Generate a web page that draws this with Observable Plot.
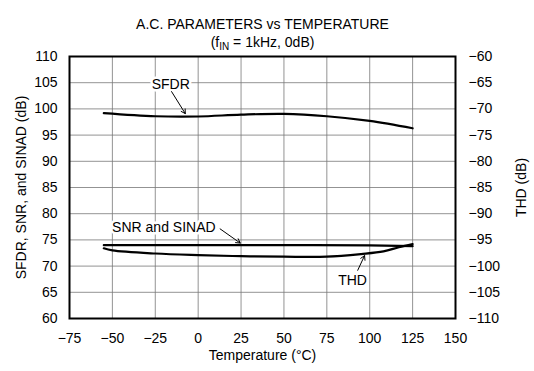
<!DOCTYPE html>
<html>
<head>
<meta charset="utf-8">
<script src="https://cdn.jsdelivr.net/npm/d3@7"></script>
<script src="https://cdn.jsdelivr.net/npm/@observablehq/plot@0.6"></script>
<style>
  html, body { margin: 0; padding: 0; background: #fff; }
  #chart svg { display: block; }
</style>
</head>
<body>
<div id="chart"></div>
<script>
// ---- data ----
const sfdrTemp = [-55, -25, 0, 25, 50, 75, 100, 125];
const sfdrDb   = [99.2, 98.6, 98.55, 98.9, 99.05, 98.6, 97.7, 96.3];

const snrTemp  = [-55, 0, 50, 100, 125];
const snrDb    = [74.0, 74.0, 74.0, 73.95, 73.8];

const thdTemp  = [-55, -50, -25, 0, 25, 50, 75, 95, 108, 117, 125];
const thdDb    = [-96.6, -97.0, -97.6, -97.9, -98.1, -98.2, -98.2, -97.7, -97.2, -96.4, -95.8];

const xTicks    = [-75, -50, -25, 0, 25, 50, 75, 100, 125, 150];
const leftTicks = [60, 65, 70, 75, 80, 85, 90, 95, 100, 105, 110];
const thdTicks  = [-110, -105, -100, -95, -90, -85, -80, -75, -70, -65, -60];
const THD_OFFSET = 170; // right axis value = left axis value - 170

const titleText    = "A.C. PARAMETERS vs TEMPERATURE";
const subtitleText = "(fIN = 1kHz, 0dB)";
const xLabel       = "Temperature (°C)";
const yLeftLabel   = "SFDR, SNR, and SINAD (dB)";
const yRightLabel  = "THD (dB)";

const annotations = [
  {text: "SFDR", x: -16, y: 104.7, ax1: -15.5, ay1: 103.3, ax2: -7.5, ay2: 99.1},
  {text: "SNR and SINAD", x: -20, y: 77.4, ax1: 12.8, ay1: 77.1, ax2: 24.5, ay2: 74.4},
  {text: "THD", x: 90, y: 67.25, ax1: 93, ay1: 69.2, ax2: 97, ay2: 72.0}
];

// ---- tables ----
const sfdr = sfdrTemp.map((t, i) => ({t, v: sfdrDb[i]}));
const snr  = snrTemp.map((t, i) => ({t, v: snrDb[i]}));
const thd  = thdTemp.map((t, i) => ({t, v: thdDb[i] + THD_OFFSET}));
const thdPos = thdTicks.map(d => d + THD_OFFSET);
const minus = n => String(n).replace("-", "\u2212");

const chart = Plot.plot({
  width: 534,
  height: 371,
  marginLeft: 69,
  marginRight: 79,
  marginTop: 56,
  marginBottom: 53,
  style: {fontFamily: "'Liberation Sans', Arial, sans-serif", fontSize: "14px", color: "black", background: "white"},
  x: {domain: [-75, 150]},
  y: {domain: [60, 110]},
  marks: [
    Plot.gridX(xTicks, {stroke: "#777", strokeOpacity: 1, strokeWidth: 0.8}),
    Plot.gridY(leftTicks, {stroke: "#777", strokeOpacity: 1, strokeWidth: 0.8}),
    Plot.axisX(xTicks, {tickSize: 0, tickPadding: 15, tickFormat: minus, label: null, fontSize: 14}),
    Plot.axisY(leftTicks, {anchor: "left", tickSize: 0, tickPadding: 12, label: null, fontSize: 14}),
    Plot.axisY(thdPos, {anchor: "right", tickSize: 0, tickPadding: 13, tickFormat: d => minus(d - THD_OFFSET), label: null, fontSize: 14}),
    Plot.line(sfdr, {x: "t", y: "v", curve: "catmull-rom", stroke: "black", strokeWidth: 2.2}),
    Plot.line(snr, {x: "t", y: "v", curve: "catmull-rom", stroke: "black", strokeWidth: 2.2}),
    Plot.line(thd, {x: "t", y: "v", curve: "catmull-rom", stroke: "black", strokeWidth: 2.2}),
    Plot.text(annotations, {x: "x", y: "y", text: "text", fill: "black", stroke: "white", strokeWidth: 5, fontSize: 14}),
    Plot.arrow(annotations, {x1: "ax1", y1: "ay1", x2: "ax2", y2: "ay2", stroke: "black", strokeWidth: 1, headLength: 7}),
    Plot.frame({stroke: "black", strokeWidth: 2}),
    Plot.text([titleText], {frameAnchor: "top", textAnchor: "middle", dy: -37, fontSize: 14}),
    Plot.text([subtitleText], {frameAnchor: "top", textAnchor: "middle", dy: -19, fontSize: 14}),
    Plot.text([xLabel], {frameAnchor: "bottom", textAnchor: "middle", dy: 41, fontSize: 14}),
    Plot.text([yLeftLabel], {frameAnchor: "left", textAnchor: "middle", dx: -48, rotate: -90, fontSize: 14}),
    Plot.text([yRightLabel], {frameAnchor: "right", textAnchor: "middle", dx: 66, rotate: -90, fontSize: 14})
  ]
});

document.getElementById("chart").appendChild(chart);

// subscript "IN" in the subtitle
d3.select(chart).selectAll("text").each(function() {
  if (this.textContent === subtitleText) {
    const t = d3.select(this);
    t.text(null);
    t.append("tspan").text("(f");
    t.append("tspan").attr("font-size", 10).attr("dy", 3).text("IN");
    t.append("tspan").attr("dy", -3).text(" = 1kHz, 0dB)");
  }
});
</script>
</body>
</html>
